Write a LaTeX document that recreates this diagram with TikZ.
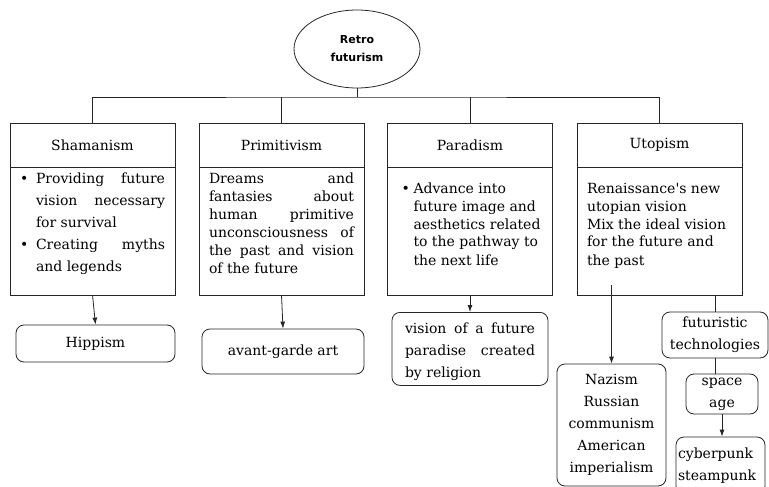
\documentclass[tikz,border=0pt]{standalone}
\usepackage{fontspec}
\setmainfont{DejaVu Serif}
\newfontfamily\rootfont{DejaVu Sans}
\usepackage{tikz}
\usetikzlibrary{shapes, arrows.meta, positioning, calc}
\hbadness=10000
\newcommand\lines[2][145pt]{\vtop{\hsize=#1\relax #2}}
\newcommand\jline[1]{\hbox to \hsize{#1}}
\newcommand\bline[2]{\hbox to \hsize{\hbox to 16pt{#1\hfil}#2}}
\tikzset{
    head/.style={
        rectangle,
        draw=black!85,
        line width=0.8pt,
        minimum width=165pt,
        minimum height=44pt,
        inner sep=0pt,
        outer sep=0pt,
        font=\fontsize{14}{18}\selectfont,
    },
    body/.style={
        rectangle,
        draw=black!85,
        line width=0.8pt,
        minimum width=165pt,
        inner xsep=10pt,
        inner ysep=0pt,
        outer sep=0pt,
        font=\fontsize{14}{18}\selectfont,
    },
    leaf/.style={
        rectangle,
        rounded corners=8pt,
        draw=black!85,
        line width=0.8pt,
        align=center,
        inner sep=2pt,
        font=\fontsize{14}{22}\selectfont,
    },
}

\begin{document}
\begin{tikzpicture}[x=1pt, y=-1pt, >={Latex[length=7pt,width=5pt]}, line width=0.8pt, draw=black!85]
    \useasboundingbox (0,0) rectangle (769,487);
    \clip (0,0) rectangle (769,487);

    \node [ellipse, draw, minimum width=126pt, minimum height=78pt, align=center,
           font=\rootfont\bfseries\fontsize{11}{18}\selectfont] (root) at (357,49) {Retro\\futurism};
    \coordinate (bus) at (357,97);

    \node [head] (sham) at (92.5,145) {Shamanism};
    \node [head] (prim) at (281.5,145) {Primitivism};
    \node [head] (parad) at (470,145) {Paradism};
    \node [head] (utop) at (659.5,145) {Utopism};

    \node [body, below=0pt of sham, text height=16pt, text depth=112pt,
           font=\fontsize{14}{22}\selectfont] (shamb) {\lines{%
        \bline{\textbullet}{Providing future}
        \bline{}{vision necessary}
        \bline{}{for survival\hfil}
        \bline{\textbullet}{Creating myths}
        \bline{}{and legends\hfil}}};
    \node [body, below=0pt of prim, text height=16pt, text depth=112pt] (primb) {\lines{%
        \jline{Dreams and}
        \jline{fantasies about}
        \jline{human primitive}
        \jline{unconsciousness of}
        \jline{the past and vision}
        \jline{of the future\hfil}}};
    \node [body, below=0pt of parad, text height=26pt, text depth=102pt] (paradb) {\lines{%
        \bline{\hskip4pt\textbullet}{Advance into\hfil}
        \bline{}{future image and\hfil}
        \bline{}{aesthetics related\hfil}
        \bline{}{to the pathway to\hfil}
        \bline{}{the next life\hfil}}};
    \node [body, below=0pt of utop, text height=26pt, text depth=102pt] (utopb) {\lines{%
        \jline{Renaissance\textquotesingle s new\hfil}
        \jline{utopian vision\hfil}
        \jline{Mix the ideal vision\hfil}
        \jline{for the future and\hfil}
        \jline{the past\hfil}}};

    \node [leaf, minimum width=159pt, minimum height=37pt] (hipp) at (95.5,343.5) {Hippism};
    \node [leaf, minimum width=162pt, minimum height=45pt] (avant) at (283,351.5) {avant-garde art};
    \node [leaf, minimum width=156pt, inner xsep=13pt, inner ysep=0pt, text height=21pt, text depth=52pt,
           anchor=north] (heaven) at (470,312) {\lines[130pt]{%
        \jline{vision of a future}
        \jline{paradise created}
        \jline{by religion\hfil}}};
    \node [leaf, minimum width=109pt, minimum height=122pt] (nazi) at (611.5,425) {Nazism\\Russian\\communism\\American\\imperialism};
    \node [leaf, minimum width=106pt, minimum height=46pt] (futur) at (715,335) {futuristic\\technologies};
    \node [leaf, minimum width=72pt, minimum height=40pt] (space) at (722,394) {space\\age};
    \node [leaf, minimum width=89pt, minimum height=57pt, text width=85pt, align=left] (cyber) at (720.5,465.5) {cyberpunk\\steampunk};
    \coordinate (nazitop) at (611.5,285);

    \draw (root.south) -- (bus);
    \draw (sham.north) |- (bus) -| (utop.north);
    \draw (prim.north) -- (prim.north |- bus);
    \draw (parad.north) -- (parad.north |- bus);

    \draw [->] (shamb.south) -- (hipp.north);
    \draw [->] (primb.south) -- (avant.north);
    \draw [->] (paradb.south) -- (heaven.north);
    \draw [->] (nazitop) -- (nazi.north);
    \draw (utopb.south -| futur.north) -- (futur.north);
    \draw (futur.south) -- (futur.south |- space.north);
    \draw [->] (space.south) -- (space.south |- cyber.north);
\end{tikzpicture}
\end{document}
